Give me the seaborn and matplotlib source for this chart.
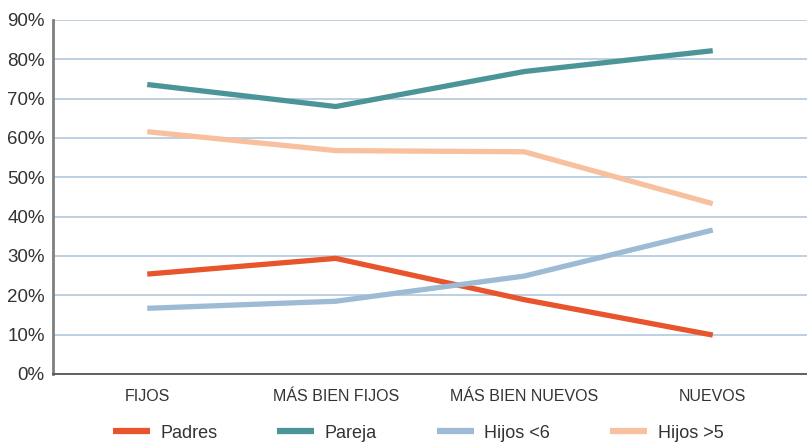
import matplotlib
matplotlib.use("Agg")
import matplotlib.pyplot as plt
import seaborn as sns
import pandas as pd
from matplotlib.ticker import FixedLocator, PercentFormatter

categories = ["FIJOS", "MÁS BIEN FIJOS", "MÁS BIEN NUEVOS", "NUEVOS"]
padres = [25.4, 29.4, 18.9, 9.9]
pareja = [73.6, 68.0, 76.9, 82.2]
hijos_menor6 = [16.7, 18.5, 24.9, 36.6]
hijos_mayor5 = [61.6, 56.8, 56.5, 43.3]
series_names = ["Padres", "Pareja", "Hijos <6", "Hijos >5"]
colors = ["#E8542B", "#4B9599", "#9DBBD4", "#F8C09E"]

df = pd.DataFrame({
    "categoria": categories * 4,
    "valor": padres + pareja + hijos_menor6 + hijos_mayor5,
    "serie": sum([[n] * len(categories) for n in series_names], []),
})

sns.set_theme(style="white")
plt.rcParams["font.family"] = ["Liberation Sans", "DejaVu Sans"]

fig = plt.figure(figsize=(8.07, 4.43), dpi=100)
ax = fig.add_axes([53 / 807, 1 - 374 / 443, 1 - 53 / 807, (374 - 20) / 443])

sns.lineplot(data=df, x="categoria", y="valor", hue="serie", sort=False,
             palette=dict(zip(series_names, colors)), linewidth=3.8,
             solid_capstyle="butt", ax=ax, legend=False)

ax.set_xlim(-0.5, 3.5)
ax.set_ylim(0, 90)
ax.yaxis.set_major_locator(FixedLocator(range(0, 91, 10)))
ax.yaxis.set_major_formatter(PercentFormatter(decimals=0))
ax.grid(axis="y", color="#B7CDE0", linewidth=1.3)
ax.set_axisbelow(True)
ax.set_xlabel("")
ax.set_ylabel("")

for s in ["top", "right"]:
    ax.spines[s].set_visible(False)
ax.spines["left"].set_color("#7F7F7F")
ax.spines["left"].set_linewidth(2)
ax.spines["bottom"].set_color("#555555")
ax.spines["bottom"].set_linewidth(1.3)

ax.tick_params(axis="y", length=0, pad=6, labelsize=13.5, labelcolor="#333333")
ax.set_xticks(range(len(categories)))
ax.set_xticklabels(categories, family=["Liberation Sans Narrow", "Liberation Sans", "DejaVu Sans"])
ax.tick_params(axis="x", which="major", length=0, pad=11, labelsize=11.5, labelcolor="#333333")
ax.set_xticks([0.5, 1.5, 2.5], minor=True)
ax.tick_params(axis="x", which="minor", direction="in", length=7, width=1, color="#333333")

handles = [plt.Line2D([], [], color=c, linewidth=4.5, solid_capstyle="butt") for c in colors]
fig.legend(handles, series_names, loc="center", bbox_to_anchor=(0.518, 1 - 433 / 443),
           ncol=4, frameon=False, fontsize=13, handlelength=2.05, handletextpad=0.6,
           columnspacing=3.3, labelcolor="#333333")

fig.savefig("out.png", dpi=100)
